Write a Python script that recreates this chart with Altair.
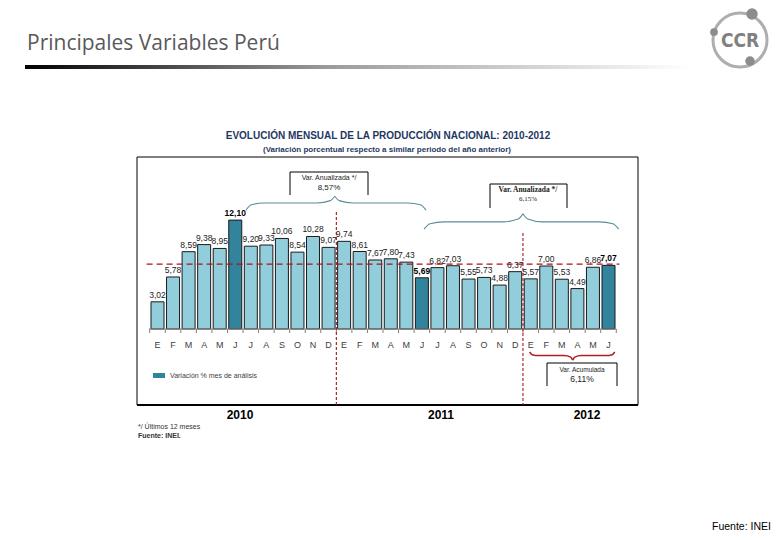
import altair as alt
import pandas as pd

# ---------------- data ----------------
months = ["E", "F", "M", "A", "M", "J", "J", "A", "S", "O", "N", "D",
          "E", "F", "M", "A", "M", "J", "J", "A", "S", "O", "N", "D",
          "E", "F", "M", "A", "M", "J"]
values = [3.02, 5.78, 8.59, 9.38, 8.95, 12.10, 9.20, 9.33, 10.06, 8.54, 10.28, 9.07,
          9.74, 8.61, 7.67, 7.80, 7.43, 5.69, 6.82, 7.03, 5.55, 5.73, 4.88, 6.37,
          5.57, 7.00, 5.53, 4.49, 6.86, 7.07]
analisis = [0, 0, 0, 0, 0, 1, 0, 0, 0, 0, 0, 0,
            0, 0, 0, 0, 0, 1, 0, 0, 0, 0, 0, 0,
            0, 0, 0, 0, 0, 1]
years = ["2010", "2011", "2012"]
linea_ref = 7.2
year_breaks = [11.5, 23.5]
var_anual_1 = "8,57%"
var_anual_2 = "6,15%"
var_acum = "6,11%"

LIGHT = "#92CDDC"
DARK = "#31849B"
RED = "#A8141B"
NAVY = "#1F3763"
BRACE = "#5A8C99"

df = pd.DataFrame({
    "i": list(range(len(values))),
    "mes": months,
    "valor": values,
    "tipo": ["Variación % mes de análisis" if a else "Otros" for a in analisis],
    "etiqueta": [f"{v:.2f}".replace(".", ",") for v in values],
    "bold": analisis,
})

xscale = alt.Scale(domain=[0, 29], range=[144.5, 605.5], nice=False, zero=False)
yscale = alt.Scale(domain=[0, 10], range=[321, 231], nice=False, zero=True)
X = lambda f="i": alt.X(f"{f}:Q", scale=xscale, axis=None)
Y = lambda f: alt.Y(f"{f}:Q", scale=yscale, axis=None)

one = pd.DataFrame({"a": [0]})


def txt(text, x, y, size=8, weight="normal", color="#333333", align="center",
        font="Liberation Sans", baseline="middle"):
    return alt.Chart(one).mark_text(
        text=text, fontSize=size, fontWeight=weight, color=color, align=align,
        font=font, baseline=baseline
    ).encode(x=alt.value(x), y=alt.value(y))


def vrule(x, y, x2, y2, color="black", width=1.0, dash=None):
    kw = dict(color=color, strokeWidth=width)
    if dash:
        kw["strokeDash"] = dash
    return alt.Chart(one).mark_rule(**kw).encode(
        x=alt.value(x), y=alt.value(y), x2=alt.value(x2), y2=alt.value(y2))


def brace(x0, x1, c, y_end, y_mid, y_peak):
    rows = []
    for side, (a, sgn) in enumerate([(x0, 1), (x1, -1)]):
        h = abs(c - a)
        pts = [(a, y_end),
               (a + sgn * 0.06 * h, y_end + 0.75 * (y_mid - y_end)),
               (a + sgn * 0.2 * h, y_mid),
               (c - sgn * 0.2 * h, y_mid),
               (c - sgn * 0.05 * h, y_mid + 0.35 * (y_peak - y_mid)),
               (c, y_peak)]
        for px, py in pts:
            rows.append({"i": px, "v": py, "g": side})
    return pd.DataFrame(rows)


layers = []

# ---- slide header ----
layers.append(txt("Principales Variables Perú", 19, 36, size=21, color="#595959",
                  align="left", font="Open Sans"))
grad = alt.LinearGradient(gradient="linear",
                          stops=[alt.GradientStop(color="#000000", offset=0),
                                 alt.GradientStop(color="#9a9a9a", offset=0.45),
                                 alt.GradientStop(color="#ffffff", offset=1)],
                          x1=0, x2=1, y1=0, y2=0)
layers.append(alt.Chart(one).mark_rect(color=grad).encode(
    x=alt.value(17), x2=alt.value(684), y=alt.value(57), y2=alt.value(61)))

# logo
layers.append(alt.Chart(one).mark_point(shape="circle", size=2916, filled=False,
                                        stroke="#8c8c8c", strokeWidth=3).encode(
    x=alt.value(732), y=alt.value(32)))
for (lx, ly, ls) in [(744, 6, 130), (706, 24, 60), (742, 53, 90)]:
    layers.append(alt.Chart(one).mark_point(shape="circle", size=ls, filled=True,
                                            color="#8c8c8c", opacity=1).encode(
        x=alt.value(lx), y=alt.value(ly)))
layers.append(txt("CCR", 732, 33, size=19, weight="bold", color="#808080",
                  font="DejaVu Sans Condensed"))

layers.append(txt("Fuente: INEI", 704, 519, size=10.5, color="#000000", align="left"))

# ---- chart frame & titles ----
layers.append(alt.Chart(one).mark_rect(fill="white", stroke="#000000", strokeWidth=1).encode(
    x=alt.value(129), x2=alt.value(630), y=alt.value(149), y2=alt.value(397)))
layers.append(vrule(129, 397, 630, 397, width=2))
layers.append(txt("EVOLUCIÓN MENSUAL DE LA PRODUCCIÓN NACIONAL: 2010-2012", 380, 128,
                  size=10, weight="bold", color=NAVY))
layers.append(txt("(Variación porcentual respecto a similar periodo del año anterior)", 379, 142,
                  size=8, weight="bold", color=NAVY))

# ---- bars ----
bars = alt.Chart(df).mark_bar(size=13, stroke="#1a1a1a", strokeWidth=1).encode(
    x=X(), y=Y("valor"), y2=alt.datum(0),
    color=alt.Color("tipo:N", scale=alt.Scale(domain=["Otros", "Variación % mes de análisis"],
                                              range=[LIGHT, DARK]), legend=None))
layers.append(bars)

labels_n = alt.Chart(df).transform_filter("datum.bold == 0").mark_text(
    fontSize=8.5, color="#222222", dy=-7, font="Liberation Sans").encode(
    x=X(), y=Y("valor"), text="etiqueta:N")
labels_b = alt.Chart(df).transform_filter("datum.bold == 1").mark_text(
    fontSize=8.5, fontWeight="bold", color="#000000", dy=-7, font="Liberation Sans").encode(
    x=X(), y=Y("valor"), text="etiqueta:N")
layers += [labels_n, labels_b]

# axis line, ticks, month labels
axis_df = pd.DataFrame({"i": [-0.55], "i2": [29.5], "v": [0]})
layers.append(alt.Chart(axis_df).mark_rule(color="#7f7f7f", strokeWidth=1).encode(
    x=X(), x2="i2:Q", y=Y("v")))
ticks_df = pd.DataFrame({"i": [k + 0.5 for k in range(-1, 30)], "v": [0] * 31})
layers.append(alt.Chart(ticks_df).mark_rule(color="#7f7f7f", strokeWidth=1).encode(
    x=X(), y=Y("v"), y2=alt.value(325)))
layers.append(alt.Chart(df).mark_text(fontSize=9, color="#404040", font="Liberation Sans").encode(
    x=X(), y=alt.value(337), text="mes:N"))

# reference dashed line
ref_df = pd.DataFrame({"i": [-0.7], "i2": [29.7], "v": [linea_ref]})
layers.append(alt.Chart(ref_df).mark_rule(color=RED, strokeWidth=1.3, strokeDash=[6, 4]).encode(
    x=X(), x2="i2:Q", y=Y("v")))

# year separators
layers.append(alt.Chart(pd.DataFrame({"i": [year_breaks[0]]})).mark_rule(
    color=RED, strokeWidth=1.1, strokeDash=[3, 2]).encode(x=X(), y=alt.value(204), y2=alt.value(397)))
layers.append(alt.Chart(pd.DataFrame({"i": [year_breaks[1]]})).mark_rule(
    color=RED, strokeWidth=1.1, strokeDash=[3, 2]).encode(x=X(), y=alt.value(225), y2=alt.value(397)))

# braces
for bdf, col, w in [(brace(5.69, 17.26, 11.4, 13.2, 14.0, 14.75), BRACE, 1.1),
                    (brace(17.14, 29.65, 23.5, 11.1, 11.9, 12.8), BRACE, 1.1),
                    (brace(23.93, 29.4, 26.7, -2.55, -2.95, -3.45), "#B01E23", 1.6)]:
    layers.append(alt.Chart(bdf).mark_line(color=col, strokeWidth=w, interpolate="monotone").encode(
        x=X(), y=Y("v"), detail="g:N"))

# annotation boxes (open at the bottom)
def open_box(x0, x1, y0, y1):
    return [alt.Chart(one).mark_rect(fill="white").encode(
                x=alt.value(x0), x2=alt.value(x1), y=alt.value(y0), y2=alt.value(y1)),
            vrule(x0, y0, x1, y0), vrule(x0, y0, x0, y1), vrule(x1, y0, x1, y1)]

layers += open_box(282, 360, 164, 187)
layers.append(txt("Var. Anualizada */", 321, 170, size=7, color="#222222"))
layers.append(txt(var_anual_1, 321, 180, size=8, color="#222222"))

layers += open_box(482, 559, 176, 200)
layers.append(txt("Var. Anualizada */", 520, 182, size=7.5, weight="bold", color="#222222",
                  font="Liberation Serif"))
layers.append(txt(var_anual_2, 520, 191, size=7, color="#222222", font="Liberation Serif"))

layers += open_box(539, 609, 355, 378)
layers.append(txt("Var. Acumulada", 574, 362, size=6.5, color="#222222"))
layers.append(txt(var_acum, 574, 371, size=8.5, color="#222222"))

# legend
layers.append(alt.Chart(one).mark_rect(color=DARK).encode(
    x=alt.value(145), x2=alt.value(157), y=alt.value(365), y2=alt.value(370)))
layers.append(txt("Variación % mes de análisis", 162, 368, size=7, color="#404040", align="left"))

# years
for yr, xp in zip(years, [232, 433, 579]):
    layers.append(txt(yr, xp, 407, size=12, weight="bold", color="#000000"))

# footnotes
layers.append(txt("*/ Últimos 12 meses", 130, 419, size=7, color="#333333", align="left"))
layers.append(txt("Fuente: INEI.", 130, 428, size=7, weight="bold", color="#333333", align="left"))

chart = alt.layer(*layers).properties(
    width=764, height=524,
    autosize=alt.AutoSizeParams(type="none"),
    padding=0,
    background="white",
).configure_view(stroke=None)

chart.save("out.html", embed_options={"renderer": "svg", "actions": False})
